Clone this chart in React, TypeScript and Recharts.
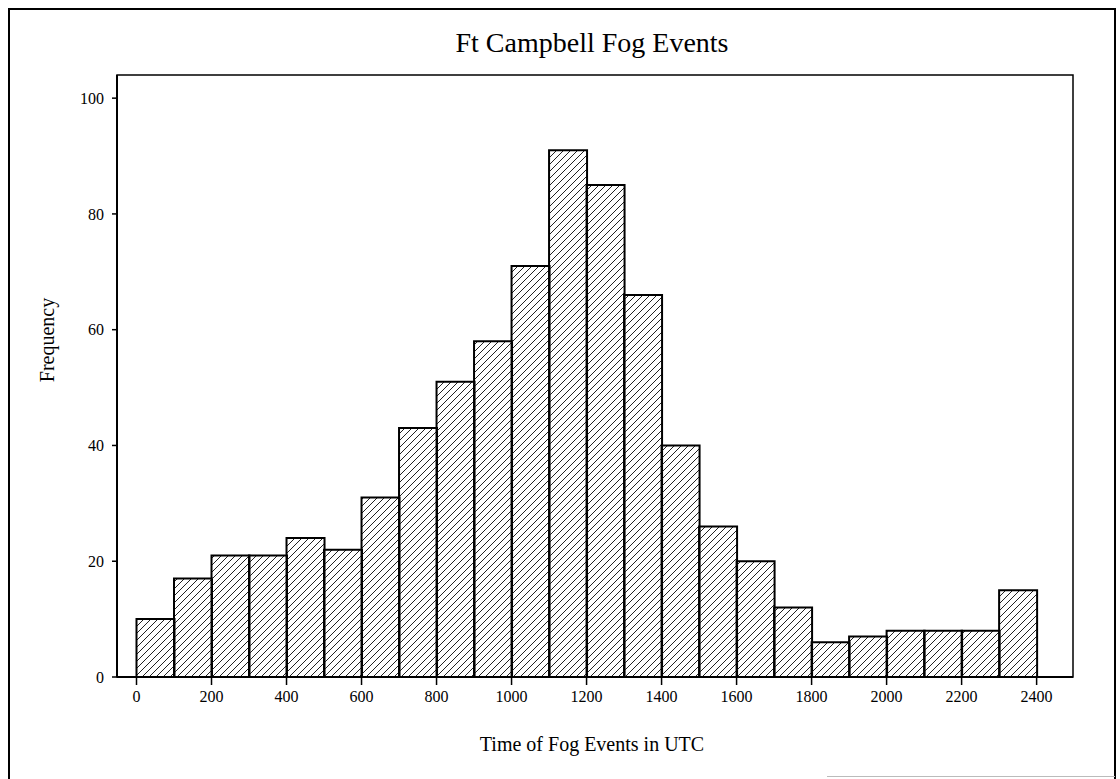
import React from 'react';
import { BarChart, Bar, XAxis, YAxis, ReferenceArea } from 'recharts';

// bin centres (each bin is 100 UTC wide)
const binCenters = [
  50, 150, 250, 350, 450, 550, 650, 750, 850, 950, 1050, 1150,
  1250, 1350, 1450, 1550, 1650, 1750, 1850, 1950, 2050, 2150, 2250, 2350,
];
const frequency = [
  10, 17, 21, 21, 24, 22, 31, 43, 51, 58, 71, 91,
  85, 66, 40, 26, 20, 12, 6, 7, 8, 8, 8, 15,
];
const xTicks = [0, 200, 400, 600, 800, 1000, 1200, 1400, 1600, 1800, 2000, 2200, 2400];
const yTicks = [0, 20, 40, 60, 80, 100];

const data = binCenters.map((x, i) => ({ x, count: frequency[i] }));

const SERIF = '"Liberation Serif", "Times New Roman", serif';
const tickStyle = { fill: '#000', fontSize: 16, fontFamily: SERIF };

export default function App() {
  return (
    <div style={{ position: 'absolute', left: 0, top: 0, width: 1120, height: 779, background: '#fff' }}>
      <svg width={0} height={0} style={{ position: 'absolute' }}>
        <defs>
          <pattern id="hatch" patternUnits="userSpaceOnUse" width={7} height={7}>
            <path d="M-1,1 l2,-2 M0,7 l7,-7 M6,8 l2,-2" stroke="#222" strokeWidth={1} />
          </pattern>
        </defs>
      </svg>

      {/* outer frame */}
      <div
        style={{
          position: 'absolute',
          left: 8,
          top: 8,
          width: 1104,
          height: 770,
          borderLeft: '2px solid #000',
          borderTop: '2px solid #000',
          borderRight: '2px solid #000',
        }}
      />
      <div style={{ position: 'absolute', left: 827, top: 776, width: 288, height: 1, background: '#bbb' }} />

      <div
        style={{
          position: 'absolute',
          left: 0,
          width: 1184,
          top: 27,
          textAlign: 'center',
          fontFamily: SERIF,
          fontSize: 28,
          color: '#000',
        }}
      >
        Ft Campbell Fog Events
      </div>

      <div
        style={{
          position: 'absolute',
          left: 47,
          top: 340,
          transform: 'translate(-50%, -50%) rotate(-90deg)',
          fontFamily: SERIF,
          fontSize: 20,
          whiteSpace: 'nowrap',
          color: '#000',
        }}
      >
        Frequency
      </div>

      <div
        style={{
          position: 'absolute',
          left: 0,
          width: 1184,
          top: 733,
          textAlign: 'center',
          fontFamily: SERIF,
          fontSize: 20,
          color: '#000',
        }}
      >
        Time of Fog Events in UTC
      </div>

      <div style={{ position: 'absolute', left: 0, top: 0 }}>
        <BarChart
          width={1120}
          height={779}
          data={data}
          margin={{ top: 75, right: 47, bottom: 42, left: 57 }}
          barCategoryGap={0}
          barGap={0}
        >
          <XAxis
            dataKey="x"
            type="number"
            domain={[-52, 2497]}
            ticks={xTicks}
            interval={0}
            height={60}
            tick={tickStyle}
            tickSize={8}
            tickMargin={6}
            axisLine={{ stroke: '#000', strokeWidth: 2 }}
            tickLine={{ stroke: '#000', strokeWidth: 1.5 }}
            allowDataOverflow
          />
          <YAxis
            type="number"
            domain={[0, 104]}
            ticks={yTicks}
            interval={0}
            width={60}
            tick={tickStyle}
            tickSize={5}
            tickMargin={8}
            axisLine={{ stroke: '#000', strokeWidth: 2 }}
            tickLine={{ stroke: '#000', strokeWidth: 1.5 }}
            allowDataOverflow
          />
          <ReferenceArea
            x1={-52}
            x2={2497}
            y1={0}
            y2={104}
            fill="none"
            stroke="#000"
            strokeWidth={1.5}
            ifOverflow="visible"
          />
          <Bar
            dataKey="count"
            fill="url(#hatch)"
            stroke="#000"
            strokeWidth={2}
            isAnimationActive={false}
          />
        </BarChart>
      </div>
    </div>
  );
}
